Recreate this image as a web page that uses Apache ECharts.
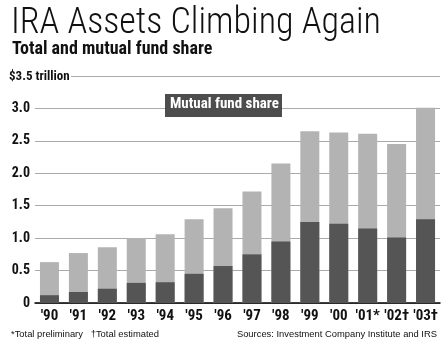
<!DOCTYPE html>
<html><head><meta charset="utf-8">
<script src="https://cdn.jsdelivr.net/npm/echarts@6/dist/echarts.min.js"></script>
<style>html,body{margin:0;padding:0;background:#fff}#c{width:448px;height:346px}</style>
</head><body><div id="c"></div>
<script>
const categories = ["'90","'91","'92","'93","'94","'95","'96","'97","'98","'99","'00","'01*","'02†","'03†"];
const totalAssets = [0.63,0.77,0.86,1.00,1.06,1.29,1.46,1.72,2.15,2.65,2.63,2.61,2.45,3.01];
const mutualFundShare = [0.12,0.17,0.22,0.31,0.32,0.45,0.57,0.75,0.95,1.25,1.22,1.15,1.01,1.29];
const yTickLabels = {0:'0',0.5:'0.5',1:'1.0',1.5:'1.5',2:'2.0',2.5:'2.5',3:'3.0',3.5:''};
const yTopLabel = '$3.5 trillion';

const NARROW = '"Roboto Condensed","DejaVu Sans Condensed",sans-serif';
const chart = echarts.init(document.getElementById('c'));
chart.setOption({
  animation:false,
  grid:{left:35,right:8,top:76,bottom:43},
  xAxis:{type:'category',data:categories,
    axisLine:{lineStyle:{color:'#000',width:1.5}},axisTick:{show:false},
    axisLabel:{color:'#111',fontFamily:NARROW,fontWeight:'bold',fontSize:15,margin:6,interval:0}},
  yAxis:{type:'value',min:0,max:3.5,interval:0.5,
    axisLine:{show:false},axisTick:{show:false},
    splitLine:{lineStyle:{color:'#aaa',width:1}},
    axisLabel:{color:'#111',fontFamily:NARROW,fontWeight:'bold',fontSize:14,margin:5,
      formatter:v=>yTickLabels[v] !== undefined ? yTickLabels[v] : ''}},
  series:[
    {type:'bar',data:totalAssets,barWidth:19,itemStyle:{color:'#b3b3b3'},z:2},
    {type:'bar',data:mutualFundShare,barWidth:19,barGap:'-100%',itemStyle:{color:'#555555'},z:3}
  ],
  graphic:[
    {type:'text',left:11,top:6,style:{text:'IRA Assets Climbing Again',fill:'#111',font:'300 36px '+NARROW}},
    {type:'text',left:12,top:40,style:{text:'Total and mutual fund share',fill:'#111',font:'bold 18px '+NARROW}},
    {type:'rect',z:50,shape:{x:165,y:94,width:117,height:23},style:{fill:'#4d4d4d'}},
    {type:'text',left:170,top:97,z:60,style:{text:'Mutual fund share',fill:'#fff',font:'bold 15px '+NARROW}},
    {type:'text',left:11,top:330,style:{text:'*Total preliminary   †Total estimated',fill:'#111',font:'normal 9.4px "Liberation Sans",sans-serif'}},
    {type:'text',right:11,top:330,style:{text:'Sources: Investment Company Institute and IRS',fill:'#111',font:'normal 9.4px "Liberation Sans",sans-serif'}}
  ]
});
// top rule and its label, placed from the y scale
const yTop = Math.round(chart.convertToPixel({yAxisIndex:0}, 3.5)) + 0.5;
const xRight = chart.getWidth() - 8;
chart.setOption({graphic:[
  {id:'topRule',type:'line',z:40,shape:{x1:72,y1:yTop,x2:xRight,y2:yTop},style:{stroke:'#aaa',lineWidth:1}},
  {id:'topMask',type:'rect',z:45,shape:{x:0,y:yTop-7,width:71,height:14},style:{fill:'#fff'}},
  {id:'topLabel',type:'text',z:60,x:9,y:yTop,style:{text:yTopLabel,fill:'#111',font:'bold 13px '+NARROW,verticalAlign:'middle',textVerticalAlign:'middle'}}
]});
</script></body></html>
